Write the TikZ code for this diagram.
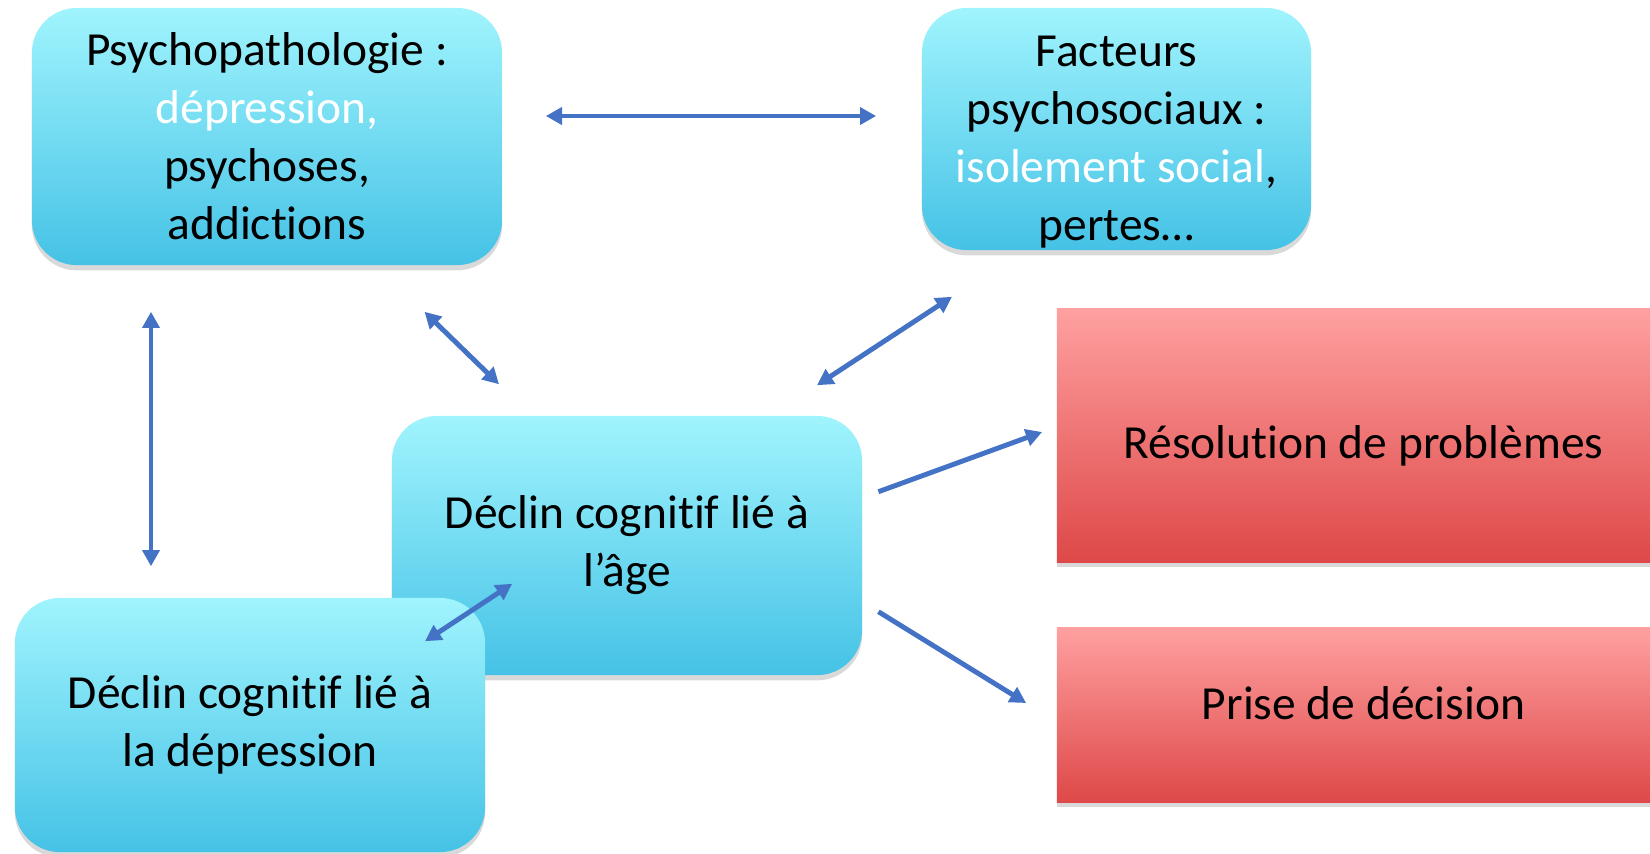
\documentclass[tikz,border=0pt]{standalone}
\usepackage{fontspec}
\setmainfont{Carlito}[RawFeature={-liga;-clig;-dlig}]
\usetikzlibrary{arrows.meta,shadows,calc}
\definecolor{cyantop}{RGB}{160,244,253}
\definecolor{cyanbot}{RGB}{69,194,230}
\definecolor{redtop}{RGB}{255,160,160}
\definecolor{redbot}{RGB}{222,72,72}
\definecolor{linkblue}{RGB}{68,114,196}

\begin{document}
\begin{tikzpicture}[x=0.01cm,y=-0.01cm,
	font=\fontsize{13.5}{16.5}\selectfont,
	>={Triangle[length=4.6pt,width=4.8pt]},
	cyanbox/.style={rounded corners=0.45cm,top color=cyantop,bottom color=cyanbot,align=center,inner sep=0pt,
		drop shadow={opacity=0.3,shadow xshift=0pt,shadow yshift=-1.5pt}},
	redbox/.style={top color=redtop,bottom color=redbot,align=center,inner sep=0pt,
		drop shadow={opacity=0.3,shadow xshift=0pt,shadow yshift=-1.5pt}},
	link/.style={linkblue,line width=1.4pt}]
			\useasboundingbox (0,0) rectangle (1650,853);
			
			\node (psych) [cyanbox,minimum width=4.7cm,minimum height=2.57cm] at (267,136.5) {Psychopathologie :\\ \textcolor{white}{dépression,}\\ psychoses,\\ addictions};
			\node (facteurs) [cyanbox,minimum width=3.89cm,minimum height=2.42cm] at (1116.5,129) {\rule{0pt}{16pt}Facteurs\\ psychosociaux :\\ \textcolor{white}{isolement social},\\ pertes…};
			\node (age) [cyanbox,minimum width=4.7cm,minimum height=2.59cm] at (627,545.5) {Déclin cognitif lié à\\ l’âge};
			\node (depr) [cyanbox,minimum width=4.7cm,minimum height=2.54cm] at (250,725) {Déclin cognitif lié à\\ la dépression};
			\node (resol) [redbox,minimum width=6.13cm,minimum height=2.53cm] at (1363.5,435.5) {\raisebox{-6.4pt}[0pt][0pt]{Résolution de problèmes}};
			\node (prise) [redbox,minimum width=6.13cm,minimum height=1.74cm] at (1363.5,715) {\raisebox{-1.4pt}[0pt][0pt]{Prise de décision}};
			
			\draw [link,<->] ($(psych.east)+(43,-20.5)$) -- ($(facteurs.west)+(-45,-13)$);
			\draw [link,<->] ($(psych.south)+(-116,46)$) -- ($(depr.north)+(-99,-31)$);
			\draw [link,<->] ($(psych.south)+(157.5,46)$) -- ($(age.north)+(-128,-31)$);
			\draw [link,<->] ($(facteurs.south)+(-164.5,46)$) -- ($(age.north)+(190,-30)$);
			\draw [link,<->] ($(depr.north)+(175,44)$) -- ($(age.south west)+(121,-92)$);
			
			\draw [link,->] ($(age.east)+(15.6,-53.8)$) -- ($(resol.west)+(-14,-3.5)$);
			\draw [link,->] ($(age.east)+(15.6,66.2)$) -- ($(prise.west)+(-30,-12)$);
			
		\end{tikzpicture}
\end{document}
